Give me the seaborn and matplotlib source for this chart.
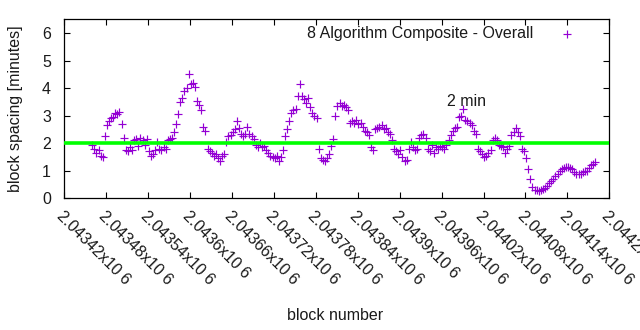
import numpy as np
import pandas as pd
import matplotlib
matplotlib.use("Agg")
import matplotlib.pyplot as plt
import seaborn as sns

# ---- data ----
first_block = 2043460
block_step = 3
spacing_minutes = [
    1.95, 1.8, 1.65, 1.75, 1.55, 1.5, 2.25, 2.65, 2.8, 2.9,
    2.95, 3.1, 3.05, 3.15, 2.7, 2.2, 1.75, 1.7, 1.85, 1.75,
    2.1, 2.15, 1.9, 2.2, 2.1, 1.95, 2.15, 1.7, 1.55, 1.6,
    1.75, 2.05, 1.8, 1.75, 1.85, 1.8, 2.1, 2.15, 2.2, 2.4,
    2.7, 3.05, 3.5, 3.65, 3.9, 4.0, 4.5, 4.15, 4.2, 4.05,
    3.55, 3.4, 3.2, 2.6, 2.45, 1.8, 1.7, 1.65, 1.55, 1.6,
    1.45, 1.35, 1.55, 1.6, 2.05, 2.25, 2.3, 2.4, 2.5, 2.8,
    2.55, 2.35, 2.25, 2.35, 2.6, 2.35, 2.25, 2.15, 1.95, 1.85,
    2.0, 1.85, 1.9, 1.75, 1.65, 1.55, 1.5, 1.45, 1.55, 1.35,
    1.5, 1.75, 2.25, 2.5, 2.8, 3.1, 3.2, 3.25, 3.7, 4.15,
    3.7, 3.6, 3.45, 3.65, 3.3, 3.1, 3.0, 2.9, 1.8, 1.45,
    1.4, 1.35, 1.45, 1.6, 1.9, 2.15, 3.0, 3.35, 3.45, 3.35,
    3.4, 3.3, 3.2, 2.75, 2.8, 2.75, 2.85, 2.7, 2.75, 2.6,
    2.45, 2.4, 2.3, 1.85, 1.75, 2.5, 2.55, 2.6, 2.65, 2.5,
    2.55, 2.4, 2.35, 2.1, 1.8, 1.7, 1.6, 1.75, 1.5, 1.35,
    1.4, 1.8, 2.05, 1.85, 1.75, 1.8, 2.2, 2.3, 2.35, 2.2,
    1.8, 1.7, 1.95, 1.65, 1.85, 1.8, 1.9, 1.85, 1.8, 1.95,
    2.1, 2.3, 2.45, 2.55, 2.6, 2.95, 3.0, 3.25, 2.85, 2.8,
    2.75, 2.65, 2.45, 2.35, 1.8, 1.7, 1.6, 1.5, 1.55, 1.65,
    1.75, 2.1, 2.2, 2.1, 1.95, 1.9, 1.85, 1.65, 1.8, 1.9,
    2.3, 2.4, 2.55, 2.4, 2.25, 1.8, 1.7, 1.45, 1.05, 0.7,
    0.4, 0.3, 0.3, 0.28, 0.3, 0.32, 0.38, 0.45, 0.55, 0.62,
    0.7, 0.8, 0.9, 1.0, 1.05, 1.1, 1.12, 1.15, 1.1, 1.05,
    0.95, 0.9, 0.88, 0.9, 0.95, 0.98, 1.0, 1.1, 1.2, 1.25, 1.32,
]
target_minutes = 2
x_ticks = [2043420, 2043480, 2043540, 2043600, 2043660, 2043720, 2043780,
           2043840, 2043900, 2043960, 2044020, 2044080, 2044140, 2044200]
x_tick_labels = ["2.04342x10 6", "2.04348x10 6", "2.04354x10 6", "2.0436x10 6",
                 "2.04366x10 6", "2.04372x10 6", "2.04378x10 6", "2.04384x10 6",
                 "2.0439x10 6", "2.04396x10 6", "2.04402x10 6", "2.04408x10 6",
                 "2.04414x10 6", "2.0442x10 6"]
y_ticks = [0, 1, 2, 3, 4, 5, 6]
series_label = "8 Algorithm Composite - Overall"
annotation = "2 min"
annotation_pos = (2043968, 3.50)

blocks = first_block + block_step * np.arange(len(spacing_minutes))
df = pd.DataFrame({"block": blocks, "spacing": spacing_minutes})

sns.set_theme(style="white")
plt.rcParams["font.family"] = ["Liberation Sans", "DejaVu Sans"]
FS = 11.5

fig = plt.figure(figsize=(6.4, 3.3), dpi=100)
ax = fig.add_axes([64.3 / 640, 1 - 198.3 / 330, (609.3 - 64.3) / 640, (198.3 - 19.3) / 330])

sns.scatterplot(data=df, x="block", y="spacing", marker="+", color="#9400d3",
                s=34, linewidth=0.85, ax=ax, label=series_label, zorder=2)
ax.axhline(target_minutes, color="#00ff00", lw=2.6, zorder=3, solid_capstyle="butt")

ax.set_xlim(2043420, 2044200)
ax.set_ylim(0, 6.5)
ax.set_xticks(x_ticks)
ax.set_xticklabels(x_tick_labels, rotation=-45, ha="left", va="top",
                   rotation_mode="anchor", fontsize=FS, color="#1a1a1a")
ax.set_yticks(y_ticks)
ax.set_yticklabels([str(v) for v in y_ticks], fontsize=FS, color="#1a1a1a")
ax.tick_params(axis="both", direction="in", length=4, width=0.8, color="black",
               top=True, right=True, bottom=True, left=True)
ax.tick_params(axis="y", pad=9.5)
ax.tick_params(axis="x", pad=7)
for sp in ax.spines.values():
    sp.set_color("black")
    sp.set_linewidth(0.9)

ax.set_xlabel("block number", fontsize=FS, color="#1a1a1a")
ax.set_ylabel("block spacing [minutes]", fontsize=FS, color="#1a1a1a")
ax.xaxis.set_label_coords(0.496, -0.615)
ax.yaxis.set_label_coords(-0.0758, 0.5)

ax.text(annotation_pos[0], annotation_pos[1], annotation, fontsize=FS,
        ha="left", va="center", color="#1a1a1a")

leg = ax.legend(loc="upper right", bbox_to_anchor=(0.9637, 0.9955), frameon=False,
                markerfirst=False, fontsize=FS, handlelength=2.0, handletextpad=1.1,
                borderaxespad=0.0, borderpad=0.4)
for t in leg.get_texts():
    t.set_color("#1a1a1a")

fig.savefig("out.png", dpi=100, facecolor="white")
